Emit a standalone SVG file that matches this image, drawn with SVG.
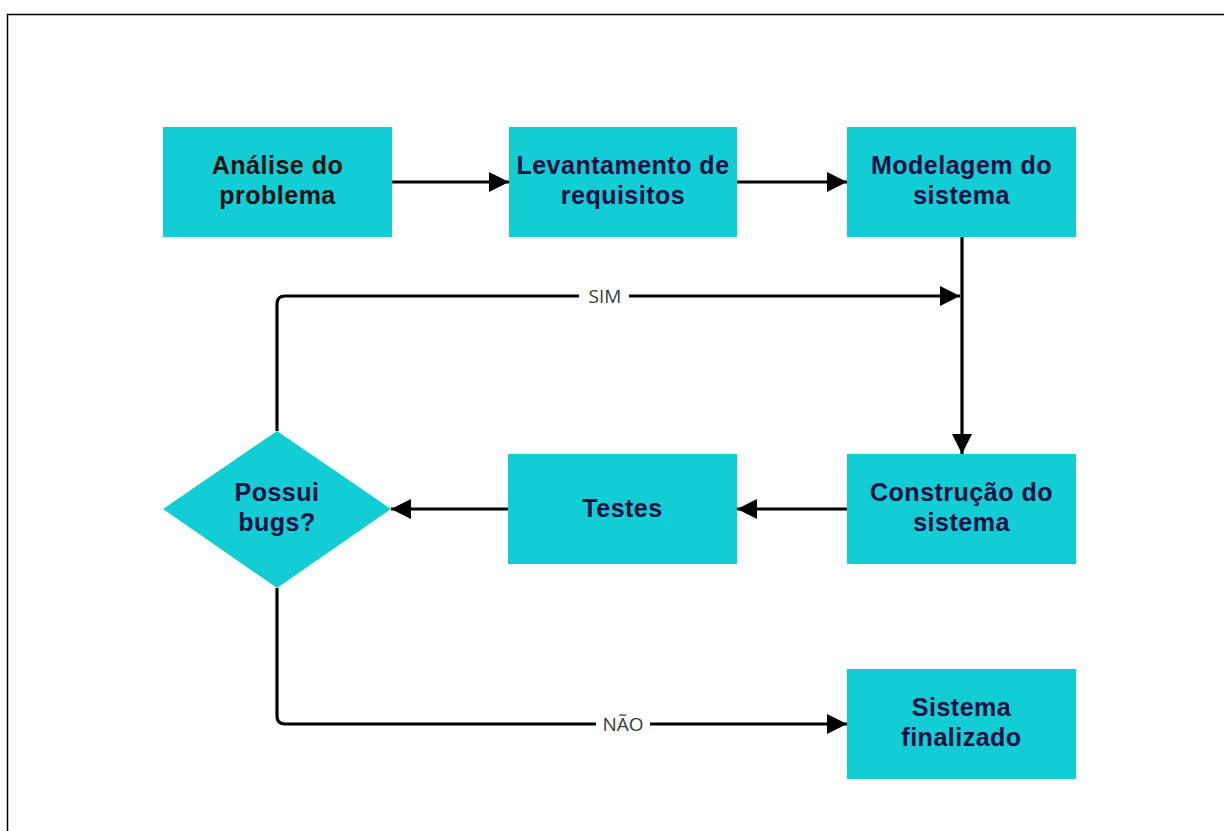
<svg xmlns="http://www.w3.org/2000/svg" width="1224" height="831" viewBox="0 0 1224 831">
  <style>
    .box { fill: #13CDD4; }
    .lbl { font-family: "Liberation Sans", Arial, sans-serif; font-weight: bold; font-size: 25px; letter-spacing: 0.5px; fill: #0E0F45; text-anchor: middle; }
    .dark { fill: #111; }
    .edge { fill: none; stroke: #000; stroke-width: 3.2; }
    .elbl { font-family: "Open Sans", "Liberation Sans", sans-serif; font-size: 19px; fill: #3a3a3a; text-anchor: middle; }
  </style>
  <defs>
    <marker id="arrow" viewBox="0 0 20 20" refX="20" refY="10" markerWidth="20" markerHeight="20" markerUnits="userSpaceOnUse" orient="auto">
      <path d="M0,0 L20,10 L0,20 Z" fill="#000"/>
    </marker>
  </defs>

  <rect width="1224" height="831" fill="#fff"/>
  <!-- page frame -->
  <path d="M7.5,831 V14.5 H1224" fill="none" stroke="#000" stroke-width="1.5"/>

  <g id="connectors">
    <line class="edge" x1="392" y1="182" x2="509" y2="182" marker-end="url(#arrow)"/>
    <line class="edge" x1="737" y1="182" x2="847" y2="182" marker-end="url(#arrow)"/>
    <line class="edge" x1="962" y1="237" x2="962" y2="454" marker-end="url(#arrow)"/>
    <line class="edge" x1="847" y1="509" x2="737" y2="509" marker-end="url(#arrow)"/>
    <line class="edge" x1="508" y1="509" x2="391" y2="509" marker-end="url(#arrow)"/>
    <path class="edge" d="M277,431 V304 Q277,296 285,296 H960" marker-end="url(#arrow)"/>
    <path class="edge" d="M277,588 V716 Q277,724 285,724 H847" marker-end="url(#arrow)"/>
    <rect x="579" y="285" width="50" height="22" fill="#fff"/>
    <text class="elbl" x="605" y="303">SIM</text>
    <rect x="596" y="713" width="54" height="22" fill="#fff"/>
    <text class="elbl" x="623" y="731">NÃO</text>
  </g>

  <g id="analise">
    <rect class="box" x="163" y="127" width="229" height="110"/>
    <text class="lbl dark" x="277.5" y="174">Análise do</text>
    <text class="lbl dark" x="277.5" y="204">problema</text>
  </g>
  <g id="levantamento">
    <rect class="box" x="509" y="127" width="228" height="110"/>
    <text class="lbl" x="623" y="174">Levantamento de</text>
    <text class="lbl" x="623" y="204">requisitos</text>
  </g>
  <g id="modelagem">
    <rect class="box" x="847" y="127" width="229" height="110"/>
    <text class="lbl" x="961.5" y="174">Modelagem do</text>
    <text class="lbl" x="961.5" y="204">sistema</text>
  </g>
  <g id="construcao">
    <rect class="box" x="847" y="454" width="229" height="110"/>
    <text class="lbl" x="961.5" y="501">Construção do</text>
    <text class="lbl" x="961.5" y="531">sistema</text>
  </g>
  <g id="testes">
    <rect class="box" x="508" y="454" width="229" height="110"/>
    <text class="lbl" x="622.5" y="517">Testes</text>
  </g>
  <g id="decisao">
    <polygon class="box" points="277,431 391,509 277,588 163,509"/>
    <text class="lbl" x="277" y="501">Possui</text>
    <text class="lbl" x="277" y="531">bugs?</text>
  </g>
  <g id="finalizado">
    <rect class="box" x="847" y="669" width="229" height="110"/>
    <text class="lbl" x="961.5" y="716">Sistema</text>
    <text class="lbl" x="961.5" y="746">finalizado</text>
  </g>
</svg>
